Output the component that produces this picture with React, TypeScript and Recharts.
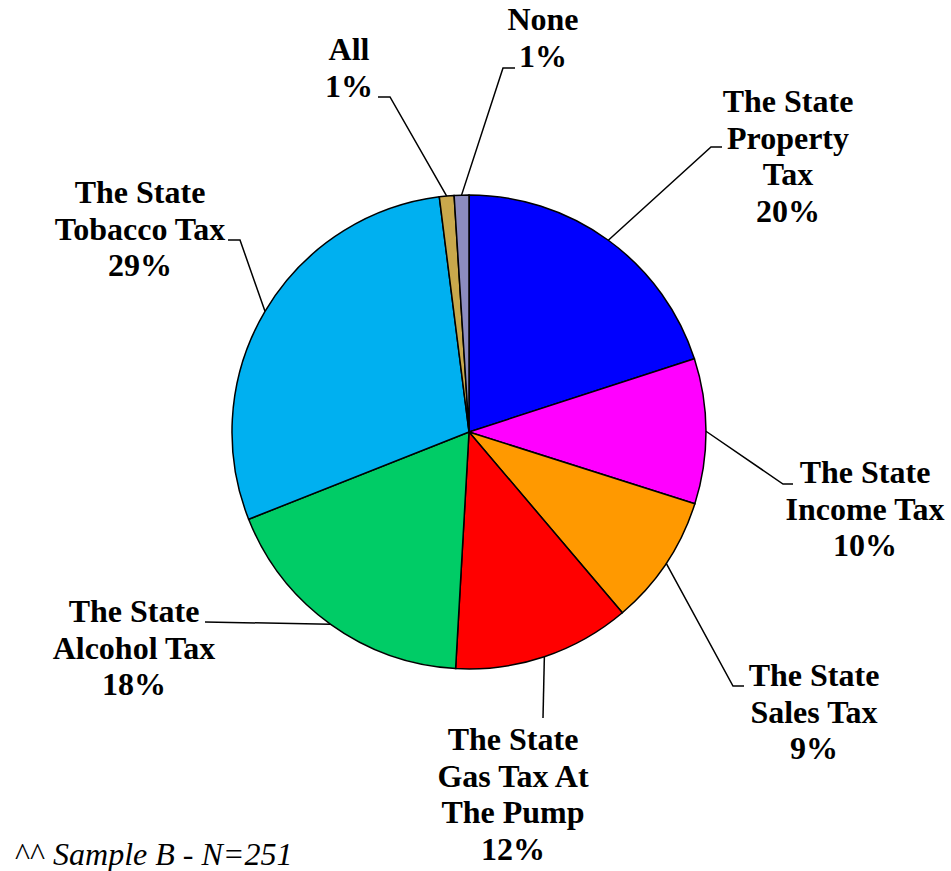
import React from "react";
import { PieChart, Pie, Cell } from "recharts";

// ---- Data ----
const CATEGORIES: string[][] = [
  ["The State", "Property", "Tax"],
  ["The State", "Income Tax"],
  ["The State", "Sales Tax"],
  ["The State", "Gas Tax At", "The Pump"],
  ["The State", "Alcohol Tax"],
  ["The State", "Tobacco Tax"],
  ["All"],
  ["None"],
];
const VALUES: number[] = [20.0, 9.9, 8.9, 12.1, 18.1, 29.0, 1.0, 1.0];
const COLORS: string[] = [
  "#0000FF",
  "#FF00FF",
  "#FF9900",
  "#FF0000",
  "#00CC66",
  "#00B0F0",
  "#C9A84C",
  "#8C8CC0",
];
const FOOTNOTE_MARK = "^^";
const FOOTNOTE = "Sample B - N=251";

// ---- Label layout (relative to pie centre) ----
type Layout = { ex: number; ey: number; tx: number; ty: number; lx: number; ly: number };
const LABEL_LAYOUT: Layout[] = [
  { ex: 242, ey: -285, tx: 253, ty: -285, lx: 319, ly: -320 },
  { ex: 314, ey: 52, tx: 324, ty: 52, lx: 396, ly: 51 },
  { ex: 264, ey: 254, tx: 275, ty: 254, lx: 345, ly: 254 },
  { ex: 74, ey: 286, tx: 74, ty: 286, lx: 44, ly: 318 },
  { ex: -264, ey: 190, tx: -264, ty: 190, lx: -335, ly: 190 },
  { ex: -229, ey: -192, tx: -241, ty: -192, lx: -329, ly: -229 },
  { ex: -79, ey: -335, tx: -91, ty: -335, lx: -120, ly: -372 },
  { ex: 34, ey: -364, tx: 46, ty: -364, lx: 74, ly: -402 },
];

const TOTAL = VALUES.reduce((a, b) => a + b, 0);
const DATA = VALUES.map((v, i) => ({ name: CATEGORIES[i].join(" "), value: v, idx: i }));

const FONT = "Liberation Serif, Times New Roman, serif";
const LINE_H = 36.5;
const RAD = Math.PI / 180;

const renderLabel = (props: any) => {
  const { cx, cy, midAngle, outerRadius, index } = props;
  const lay = LABEL_LAYOUT[index];
  const sx = cx + outerRadius * Math.cos(-midAngle * RAD);
  const sy = cy + outerRadius * Math.sin(-midAngle * RAD);
  const lines = [...CATEGORIES[index], `${Math.round((VALUES[index] / TOTAL) * 100)}%`];
  return (
    <g key={`lbl-${index}`}>
      <polyline
        points={`${sx},${sy} ${cx + lay.ex},${cy + lay.ey} ${cx + lay.tx},${cy + lay.ty}`}
        fill="none"
        stroke="#000"
        strokeWidth={1.5}
      />
      <text
        x={cx + lay.lx}
        y={cy + lay.ly}
        textAnchor="middle"
        style={{ fontFamily: FONT, fontWeight: "bold", fontSize: 32 }}
        fill="#000"
      >
        {lines.map((l, i) => (
          <tspan key={i} x={cx + lay.lx} dy={i === 0 ? 0 : LINE_H}>
            {l}
          </tspan>
        ))}
      </text>
    </g>
  );
};

export default function App() {
  return (
    <div style={{ position: "absolute", left: 0, top: 0, width: 951, height: 871, background: "#fff" }}>
      <PieChart width={951} height={871} margin={{ top: 0, right: 0, bottom: 0, left: 0 }}>
        <Pie
          data={DATA}
          dataKey="value"
          nameKey="name"
          cx={469}
          cy={432}
          outerRadius={237}
          startAngle={90}
          endAngle={-270}
          stroke="#000"
          strokeWidth={1.5}
          label={renderLabel}
          labelLine={false}
          isAnimationActive={false}
        >
          {DATA.map((d, i) => (
            <Cell key={i} fill={COLORS[i]} />
          ))}
        </Pie>
      </PieChart>
      <svg width={400} height={60} style={{ position: "absolute", left: 0, top: 811 }}>
        <text x={15} y={54} style={{ fontFamily: FONT, fontSize: 32 }} fill="#000">
          <tspan>{FOOTNOTE_MARK} </tspan>
          <tspan style={{ fontStyle: "italic" }}>{FOOTNOTE}</tspan>
        </text>
      </svg>
    </div>
  );
}
